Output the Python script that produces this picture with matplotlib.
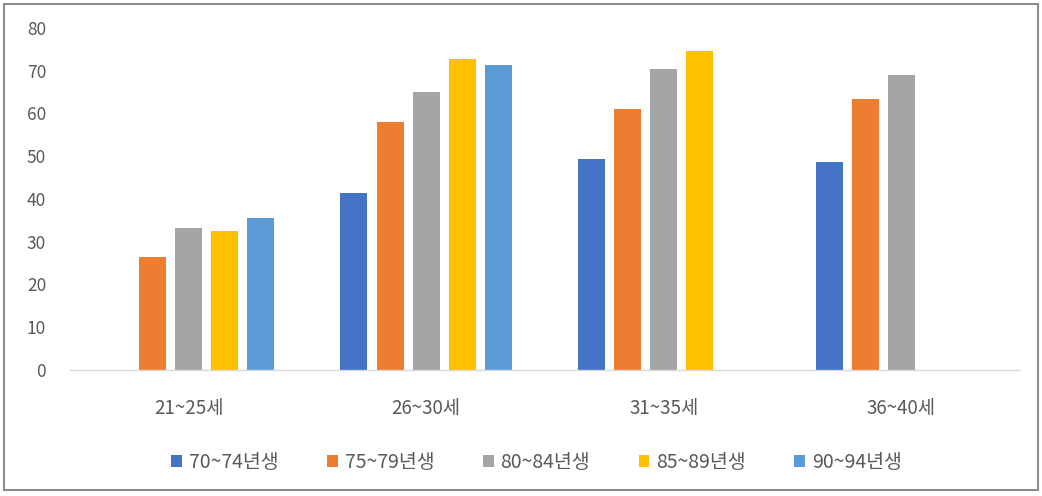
import matplotlib
matplotlib.use("Agg")
import matplotlib.pyplot as plt
import numpy as np
from matplotlib.patches import Rectangle

plt.rcParams['font.family'] = ['Noto Sans CJK KR', 'DejaVu Sans']

categories = ["21~25세", "26~30세", "31~35세", "36~40세"]
series_names = ["70~74년생", "75~79년생", "80~84년생", "85~89년생", "90~94년생"]
colors = ["#4472C4", "#ED7D31", "#A5A5A5", "#FFC000", "#5B9BD5"]

s70 = [np.nan, 41.4, 49.4, 48.7]
s75 = [26.4, 58.0, 61.1, 63.4]
s80 = [33.3, 65.0, 70.4, 69.0]
s85 = [32.5, 72.7, 74.6, np.nan]
s90 = [35.6, 71.2, np.nan, np.nan]
series = [s70, s75, s80, s85, s90]

yticks = [0, 10, 20, 30, 40, 50, 60, 70, 80]

fig = plt.figure(figsize=(10.42, 4.96), dpi=100)
ax = fig.add_axes([0.067, 0.254, 0.912, 0.690])

x = np.arange(len(categories))
pitch = 0.152
width = 0.114
for i, (vals, name, c) in enumerate(zip(series, series_names, colors)):
    ax.bar(x + (i - 2) * pitch, vals, width=width, color=c, label=name)

ax.set_xlim(-0.5, len(categories) - 0.5)
ax.set_ylim(0, 80)
ax.set_yticks(yticks)
ax.set_xticks(x)
ax.set_xticklabels(categories)

text_color = "#595959"
ax.tick_params(axis='y', length=0, pad=17, labelsize=12.5, labelcolor=text_color)
ax.tick_params(axis='x', length=0, pad=20, labelsize=13.5, labelcolor=text_color)
for side in ("top", "right", "left"):
    ax.spines[side].set_visible(False)
ax.spines["bottom"].set_color("#D9D9D9")
ax.spines["bottom"].set_linewidth(1.0)

handles, labels = ax.get_legend_handles_labels()
fig.legend(handles, labels, loc="center", bbox_to_anchor=(0.515, 0.068), ncol=5,
           frameon=False, fontsize=14, labelcolor=text_color,
           handlelength=0.55, handleheight=0.55, handletextpad=0.35, columnspacing=2.5)

fig.patches.append(Rectangle((0.004, 0.012), 0.992, 0.98, transform=fig.transFigure,
                             fill=False, edgecolor="#8C8C8C", linewidth=1.5))

fig.savefig("out.png", dpi=100)
